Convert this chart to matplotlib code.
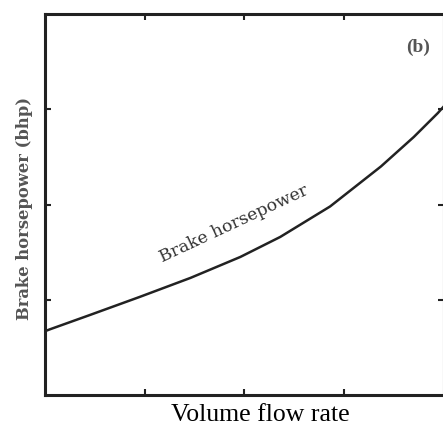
import matplotlib
matplotlib.use('Agg')
import matplotlib.pyplot as plt

# curve (arbitrary units, axes 0..4)
flow = [0.0, 0.05, 0.45, 0.95, 1.46, 1.96, 2.36, 2.86, 3.37, 3.70, 3.94, 4.0]
bhp = [0.67, 0.69, 0.84, 1.03, 1.23, 1.45, 1.66, 1.98, 2.40, 2.71, 2.96, 3.03]
ticks = [1, 2, 3]

fig = plt.figure(figsize=(4.43, 4.26), dpi=100)
ax = fig.add_axes([0.1016, 0.0728, 0.9, 0.894])

ax.plot(flow, bhp, color='#222222', lw=1.8, solid_joinstyle='round')
ax.set_xlim(0, 4)
ax.set_ylim(0, 4)

ax.set_xticks(ticks)
ax.set_yticks(ticks)
ax.set_xticklabels([])
ax.set_yticklabels([])
ax.tick_params(direction='in', length=4, width=1.5, color='#222222',
               top=True, right=True)
for s in ax.spines.values():
    s.set_linewidth(2.2)
    s.set_color('#222222')

ax.text(0.935, 0.913, '(b)', transform=ax.transAxes, fontsize=14,
        fontweight='bold', color='#555555', family='Liberation Serif',
        ha='center', va='center')
ax.text(1.9, 1.80, 'Brake horsepower', fontsize=12.5, color='#333333',
        family='DejaVu Serif', rotation=25, ha='center', va='center',
        rotation_mode='anchor')

fig.text(0.056, 0.51, 'Brake horsepower (bhp)', rotation=90, fontsize=11.8,
         color='#555555', family='DejaVu Serif', fontweight='bold',
         ha='center', va='center')
fig.text(0.587, 0.025, 'Volume flow rate', fontsize=18.5, color='black',
         family='Liberation Serif', ha='center', va='center')

fig.savefig('out.png', dpi=100)
